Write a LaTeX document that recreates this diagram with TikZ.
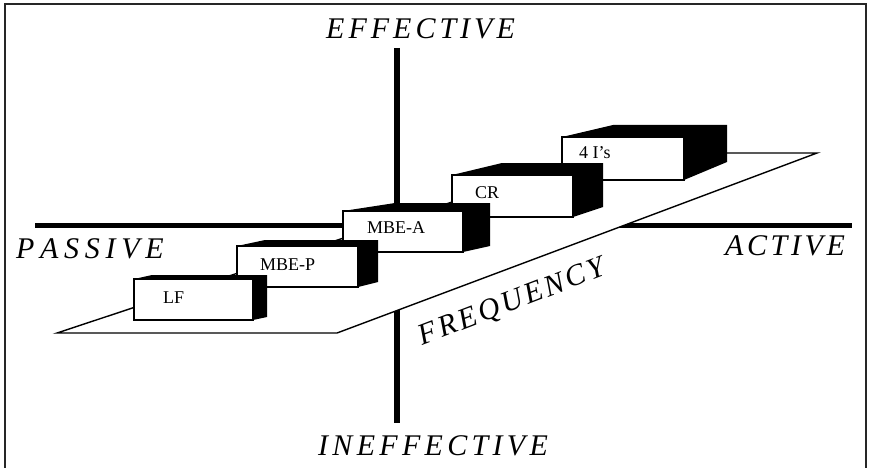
\documentclass[tikz,border=0pt]{standalone}
\usepackage{fontspec}
\setmainfont{Liberation Serif}

% letter-spaced word: \trk{<gap>}{<letters>}
\def\trkamt{4pt}
\def\trkA#1{\ifx\relax#1\else#1\kern\trkamt\expandafter\trkA\fi}
\def\trk#1#2{\def\trkamt{#1}\trkA#2\relax\unkern}

% one block: front rectangle (L,T)-(R,B), black top and side faces
% #1 L  #2 T  #3 R  #4 B  #5 top-left recess  #6 depth rise  #7 side width  #8 side bottom rise
\newcommand\drawblock[8]{%
  \fill[blockshade] (#1,#2) -- ({#1+#5},{#2-#6}) -- ({#3+#7},{#2-#6})
      -- ({#3+#7},{#4-#8}) -- (#3,#4) -- (#3,#2) -- cycle;
  \filldraw[blockface] (#1,#2) rectangle (#3,#4);
}

\tikzset{
  axisline/.style={line width=#1, black},
  plane/.style={draw=black, fill=white, line width=1.4pt, line join=miter},
  blockshade/.style={fill=black},
  blockface/.style={draw=black, fill=white, line width=1.3pt},
  axislabel/.style={font=\fontsize{30}{30}\selectfont\itshape, inner sep=0pt, anchor=base west},
  blocklabel/.style={font=\fontsize{18}{18}\selectfont, inner sep=0pt, anchor=base west},
  frameline/.style={draw=black!85, line width=1.5pt}
}

\begin{document}
\begin{tikzpicture}[x=1pt, y=-1pt]
\useasboundingbox (0,0) rectangle (870,468);
\fill[white] (0,0) rectangle (870,468);

% frame
\draw[frameline] (5,468) -- (5,4) -- (866,4) -- (866,468);

% axes
\coordinate (vtop) at (397,48);
\coordinate (vbot) at (397,423);
\coordinate (hleft) at (35,225);
\coordinate (hright) at (852,225);
\draw[axisline=6.5pt] (vtop) -- (vbot);
\draw[axisline=5pt] (hleft) -- (hright);

% frequency plane (receding, narrower at the back)
\filldraw[plane] (57,333) -- (337,333) -- (817,153) -- (600,153) -- cycle;

% blocks, back to front
\drawblock{562}{137}{684}{180}{51}{12}{43}{18}
\drawblock{452}{175}{573}{217}{50}{12}{30}{10}
\drawblock{343}{211}{463}{252}{52}{8}{27}{6}
\drawblock{237}{246}{358}{287}{28}{6}{20}{5}
\drawblock{134}{279}{253}{320}{18}{4}{14}{3}

\node[blocklabel] (fouri) at (579,158) {4 I's};
\node[blocklabel] (cr)    at (475,198) {CR};
\node[blocklabel] (mbea)  at (367,233) {MBE-A};
\node[blocklabel] (mbep)  at (260,270) {MBE-P};
\node[blocklabel] (lf)    at (163,303) {LF};

% axis labels
\node[axislabel] (eff)   at (326,39)  {\trk{4pt}{EFFECTIVE}};
\node[axislabel] (ineff) at (318,455) {\trk{4.3pt}{INEFFECTIVE}};
\node[axislabel] (pas)   at (16,258)  {\trk{5.7pt}{PASSIVE}};
\node[axislabel] (act)   at (725,255) {\trk{3.6pt}{ACTIVE}};
\node[font=\fontsize{30}{30}\selectfont\itshape, inner sep=0pt, rotate=21] (freq) at (512,303) {\trk{3pt}{FREQUENCY}};
\end{tikzpicture}
\end{document}
